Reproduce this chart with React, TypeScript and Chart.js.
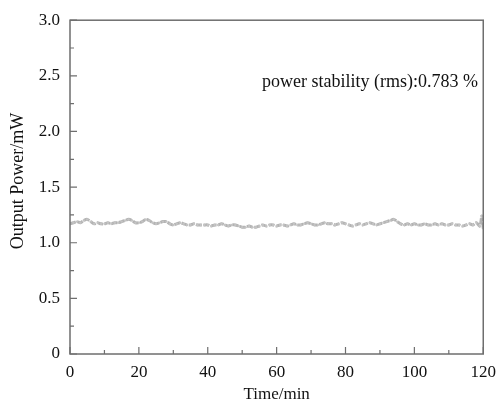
import React, { useEffect, useRef } from "react";
import { Chart, registerables } from "chart.js";

Chart.register(...registerables);

const timeMin = [
  0, 1, 2, 3, 4, 5, 6, 7, 8, 9, 10,
  11, 12, 13, 14, 15, 16, 17, 18, 19, 20,
  21, 22, 23, 24, 25, 26, 27, 28, 29, 30,
  31, 32, 33, 34, 35, 36, 37, 38, 39, 40,
  41, 42, 43, 44, 45, 46, 47, 48, 49, 50,
  51, 52, 53, 54, 55, 56, 57, 58, 59, 60,
  61, 62, 63, 64, 65, 66, 67, 68, 69, 70,
  71, 72, 73, 74, 75, 76, 77, 78, 79, 80,
  81, 82, 83, 84, 85, 86, 87, 88, 89, 90,
  91, 92, 93, 94, 95, 96, 97, 98, 99, 100,
  101, 102, 103, 104, 105, 106, 107, 108, 109, 110,
  111, 112, 113, 114, 115, 116, 117, 118, 119, 119.6, 120,
];

const outputPower = [
  1.17, 1.18, 1.19, 1.18, 1.2, 1.21, 1.19, 1.17, 1.18, 1.17, 1.17,
  1.18, 1.17, 1.18, 1.18, 1.19, 1.2, 1.21, 1.2, 1.18, 1.18,
  1.19, 1.21, 1.2, 1.18, 1.17, 1.18, 1.19, 1.19, 1.17, 1.16,
  1.17, 1.18, 1.17, 1.16, 1.16, 1.17, 1.16, 1.16, 1.16, 1.16,
  1.15, 1.16, 1.16, 1.17, 1.16, 1.15, 1.16, 1.16, 1.15, 1.14,
  1.14, 1.15, 1.14, 1.14, 1.15, 1.16, 1.15, 1.16, 1.16, 1.15,
  1.16, 1.16, 1.15, 1.16, 1.17, 1.16, 1.16, 1.17, 1.18, 1.17,
  1.16, 1.16, 1.17, 1.18, 1.17, 1.17, 1.16, 1.17, 1.18, 1.17,
  1.16, 1.15, 1.16, 1.17, 1.16, 1.17, 1.18, 1.17, 1.16, 1.17,
  1.18, 1.19, 1.2, 1.21, 1.19, 1.17, 1.16, 1.17, 1.16, 1.17,
  1.16, 1.16, 1.17, 1.16, 1.16, 1.17, 1.16, 1.17, 1.16, 1.16,
  1.17, 1.16, 1.16, 1.15, 1.16, 1.17, 1.16, 1.18, 1.15, 1.24, 1.13,
];

const xMajorTicks = [0, 20, 40, 60, 80, 100, 120];
const xMinorTicks = [10, 30, 50, 70, 90, 110];
const yMajorTicks = [0, 0.5, 1.0, 1.5, 2.0, 2.5, 3.0];
const yMinorTicks = [0.25, 0.75, 1.25, 1.75, 2.25, 2.75];

const xTitle = "Time/min";
const yTitle = "Output Power/mW";
const annotationText = "power stability (rms):0.783 %";

const SERIF = "'Liberation Serif', 'Times New Roman', serif";

const framePlugin = {
  id: "frameTicks",
  afterDraw(chart: any) {
    const { ctx, chartArea, scales } = chart;
    const { left, right, top, bottom } = chartArea;
    ctx.save();
    ctx.strokeStyle = "#6e6e6e";
    ctx.lineWidth = 1.5;
    ctx.strokeRect(left, top, right - left, bottom - top);
    ctx.lineWidth = 1.2;
    ctx.beginPath();
    xMajorTicks.forEach((v) => {
      const px = scales.x.getPixelForValue(v);
      ctx.moveTo(px, bottom);
      ctx.lineTo(px, bottom - 7);
    });
    xMinorTicks.forEach((v) => {
      const px = scales.x.getPixelForValue(v);
      ctx.moveTo(px, bottom);
      ctx.lineTo(px, bottom - 4);
    });
    yMajorTicks.forEach((v) => {
      const py = scales.y.getPixelForValue(v);
      ctx.moveTo(left, py);
      ctx.lineTo(left + 7, py);
    });
    yMinorTicks.forEach((v) => {
      const py = scales.y.getPixelForValue(v);
      ctx.moveTo(left, py);
      ctx.lineTo(left + 4, py);
    });
    ctx.stroke();
    ctx.fillStyle = "#111";
    ctx.font = `18px ${SERIF}`;
    ctx.textAlign = "left";
    ctx.textBaseline = "middle";
    ctx.fillText(annotationText, left + 192, top + 62);
    // y-axis title
    ctx.save();
    ctx.translate(18, (top + bottom) / 2 - 6);
    ctx.rotate(-Math.PI / 2);
    ctx.textAlign = "center";
    ctx.textBaseline = "middle";
    ctx.font = `18px ${SERIF}`;
    ctx.fillText(yTitle, 0, 0);
    ctx.restore();
    ctx.restore();
  },
};

export default function App() {
  const ref = useRef<HTMLCanvasElement>(null);
  useEffect(() => {
    if (!ref.current) return;
    const chart = new Chart(ref.current, {
      type: "line",
      data: {
        datasets: [
          {
            data: timeMin.map((t, i) => ({ x: t, y: outputPower[i] })),
            borderColor: "#b3b3b3",
            borderWidth: 3,
            borderDash: [6, 1.5],
            pointRadius: 1.2,
            pointBackgroundColor: "#c4c4c4",
            pointBorderWidth: 0,
            tension: 0.3,
          },
        ],
      },
      options: {
        animation: false,
        responsive: false,
        maintainAspectRatio: false,
        layout: { padding: { top: 14, right: 13, left: 0, bottom: 0 } },
        plugins: { legend: { display: false }, tooltip: { enabled: false } },
        scales: {
          x: {
            type: "linear",
            min: 0,
            max: 120,
            grid: { display: false, drawTicks: false },
            border: { display: false },
            afterFit: (s: any) => {
              s.height = 51;
            },
            ticks: {
              stepSize: 20,
              padding: 8,
              color: "#111",
              font: { family: SERIF, size: 17 },
              maxRotation: 0,
              callback: (v: any) => String(v),
            },
            title: {
              display: true,
              text: xTitle,
              color: "#111",
              font: { family: SERIF, size: 17 },
              padding: { top: 0, bottom: 0 },
            },
          },
          y: {
            min: 0,
            max: 3,
            grid: { display: false, drawTicks: false },
            border: { display: false },
            afterFit: (s: any) => {
              s.width = 70;
            },
            ticks: {
              stepSize: 0.5,
              padding: 10,
              color: "#111",
              font: { family: SERIF, size: 17 },
              callback: (v: any) => (Number(v) === 0 ? "0" : Number(v).toFixed(1)),
            },
            title: { display: false },
          },
        },
      },
      plugins: [framePlugin],
    });
    return () => chart.destroy();
  }, []);
  return (
    <div style={{ position: "fixed", left: 0, top: 0, width: 504, height: 405, background: "#fff" }}>
      <canvas ref={ref} width={504} height={405} style={{ width: 504, height: 405 }} />
    </div>
  );
}
